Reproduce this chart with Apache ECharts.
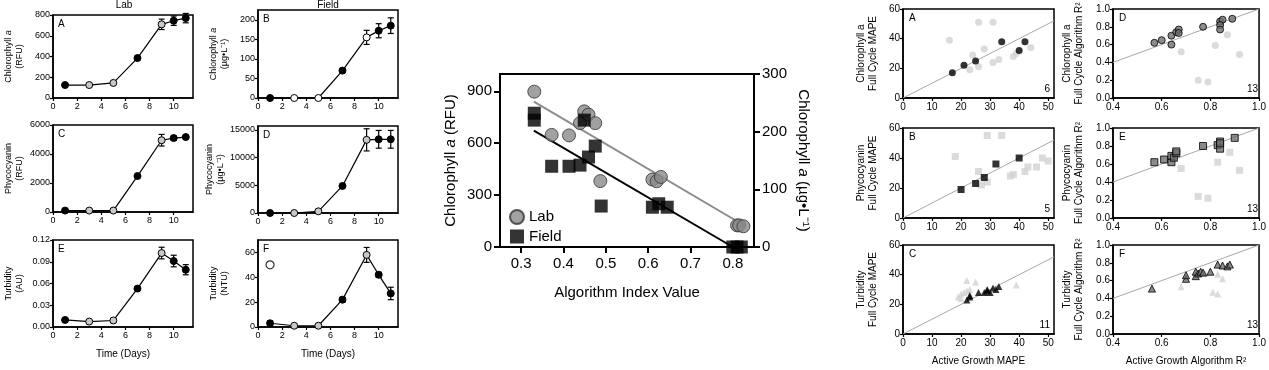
<!DOCTYPE html>
<html><head><meta charset="utf-8">
<script src="https://cdn.jsdelivr.net/npm/echarts@6/dist/echarts.min.js"></script>
<style>html,body{margin:0;padding:0;background:#fff}#c{width:1269px;height:370px}</style>
</head><body><div id="c"></div>
<script>
// ---------------- DATA ----------------
const days = [1, 3, 5, 7, 9, 10, 11];
const dayTicks = [0, 2, 4, 6, 8, 10];

const labChlRFU = [125, 125, 145, 385, 710, 745, 770];
const labChlRFUErr = [0, 0, 0, 0, 50, 45, 45];
const fieldChl = [0, 0, 0, 70, 155, 172, 185];
const fieldChlErr = [0, 0, 0, 0, 18, 18, 20];
const labPC = [100, 100, 100, 2480, 4950, 5100, 5170];
const labPCErr = [0, 0, 0, 0, 400, 150, 100];
const fieldPC = [0, 0, 300, 4880, 13200, 13300, 13300];
const fieldPCErr = [0, 0, 0, 0, 2000, 1600, 1600];
const labTurb = [0.0097, 0.0075, 0.009, 0.053, 0.102, 0.091, 0.079];
const labTurbErr = [0.002, 0, 0.003, 0, 0.008, 0.008, 0.007];
const fieldTurb = [3, 1, 1, 22, 58, 42, 27];
const fieldTurbErr = [2, 0, 0, 2, 6, 2, 5];
const fieldTurbOutlier = [[1, 50]];

// middle panel
const labIndex = [0.331, 0.372, 0.413, 0.439, 0.449, 0.459, 0.475, 0.487, 0.61, 0.62, 0.63, 0.81, 0.815, 0.825];
const labRFU = [898, 648, 645, 716, 784, 765, 716, 381, 390, 380, 405, 125, 125, 120];
const fieldIndex = [0.331, 0.331, 0.372, 0.413, 0.439, 0.449, 0.459, 0.475, 0.489, 0.61, 0.625, 0.645, 0.80, 0.81, 0.82];
const fieldUgL = [232, 220, 140, 140, 142, 220, 156, 175, 71, 69, 75, 69, 0, 0, 0];
const labFitX = [0.33, 0.83], labFitY = [840, 120];
const fieldFitX = [0.33, 0.80], fieldFitY = [202, 0];
const midXTicks = [0.3, 0.4, 0.5, 0.6, 0.7, 0.8];
const midYTicks = [0, 300, 600, 900];
const midY2Ticks = [0, 100, 200, 300];

// right panels
const chlMapeSel = [[17, 17], [21, 22], [25, 25], [34, 38], [40, 32], [42, 38]];
const chlMapeAll = [[16, 39], [26, 51], [31, 51], [24, 29], [23, 19], [26, 21], [28, 33], [31, 24], [33, 26], [38, 28], [39, 30], [44, 34]];
const pcMapeSel = [[20, 19], [25, 23], [28, 27], [32, 36], [40, 40]];
const pcMapeAll = [[18, 41], [29, 55], [34, 55], [26, 31], [27, 22], [29, 24], [37, 28], [38, 29], [42, 31], [43, 34], [46, 34], [48, 40], [50, 38]];
const turbMapeSel = [[22, 23], [23, 25], [23, 26], [26, 28], [28, 28], [29, 29], [29, 30], [30, 28], [31, 31], [32, 30], [33, 32]];
const turbMapeAll = [[19, 25], [20, 27], [20, 24], [22, 36], [22, 29], [23, 30], [25, 35], [39, 33], [21, 28]];
const chlR2Sel = [[0.57, 0.62], [0.60, 0.65], [0.64, 0.70], [0.64, 0.60], [0.66, 0.74], [0.67, 0.77], [0.67, 0.73], [0.77, 0.80], [0.84, 0.86], [0.85, 0.88], [0.84, 0.82], [0.84, 0.77], [0.89, 0.89]];
const chlR2All = [[0.68, 0.52], [0.75, 0.20], [0.79, 0.18], [0.82, 0.59], [0.87, 0.71], [0.92, 0.49]];
const pcR2Sel = [[0.57, 0.62], [0.61, 0.65], [0.64, 0.62], [0.64, 0.69], [0.65, 0.67], [0.66, 0.72], [0.66, 0.74], [0.77, 0.80], [0.83, 0.81], [0.84, 0.85], [0.84, 0.77], [0.84, 0.83], [0.90, 0.89]];
const pcR2All = [[0.68, 0.55], [0.75, 0.24], [0.79, 0.22], [0.83, 0.62], [0.88, 0.73], [0.92, 0.53]];
const turbR2Sel = [[0.56, 0.51], [0.70, 0.62], [0.70, 0.66], [0.74, 0.65], [0.74, 0.70], [0.75, 0.68], [0.76, 0.70], [0.77, 0.69], [0.80, 0.70], [0.83, 0.78], [0.85, 0.77], [0.87, 0.76], [0.88, 0.78]];
const turbR2All = [[0.68, 0.53], [0.81, 0.47], [0.83, 0.45], [0.83, 0.67], [0.85, 0.62], [0.78, 0.68]];
const mapeTicks = [0, 10, 20, 30, 40, 50];
const mapeYTicks = [0, 20, 40, 60];
const r2XTicks = [0.4, 0.6, 0.8, 1.0];
const r2YTicks = [0, 0.2, 0.4, 0.6, 0.8, 1.0];
const identityMape = [[0, 0], [52, 52]];
const identityR2 = [[0.4, 0.4], [1, 1]];

// ---------------- STYLE ----------------
const FONT = '"Liberation Sans", Arial, sans-serif';
const FILL = { k: '#000', g: '#c8c8c8', w: '#fff' };
const fillA = ['k', 'g', 'g', 'k', 'g', 'k', 'k'];
const fillB = ['k', 'w', 'w', 'k', 'w', 'k', 'k'];
const fillC = ['k', 'g', 'g', 'k', 'g', 'k', 'k'];
const fillD = ['k', 'g', 'g', 'k', 'g', 'k', 'k'];
const fillE = ['k', 'g', 'g', 'k', 'g', 'k', 'k'];
const fillF = ['k', 'g', 'g', 'k', 'g', 'k', 'k'];
const plain = v => String(v);

const grids = [], xAxes = [], yAxes = [], series = [], graphics = [];
function addGrid(g) {
  grids.push(Object.assign({ show: true, borderColor: '#000', borderWidth: 1.5, backgroundColor: 'transparent' }, g));
  return grids.length - 1;
}
function axisBase(fs) {
  return {
    type: 'value',
    axisLine: { show: true, onZero: false, lineStyle: { color: '#000', width: 1.5 } },
    splitLine: { show: false },
    axisLabel: { color: '#000', fontSize: fs, fontFamily: FONT, formatter: plain },
    nameTextStyle: { color: '#000', fontSize: fs, fontFamily: FONT }
  };
}
function errSeries(xi, yi, xs, ys, es, cap) {
  const data = [];
  xs.forEach((x, i) => { if (es[i] > 0) data.push([x, ys[i] - es[i], ys[i] + es[i]]); });
  return {
    type: 'custom', xAxisIndex: xi, yAxisIndex: yi, z: 2, silent: true,
    data: data,
    renderItem: function (params, api) {
      const lo = api.coord([api.value(0), api.value(1)]);
      const hi = api.coord([api.value(0), api.value(2)]);
      const st = { stroke: '#000', lineWidth: 1.2 };
      return {
        type: 'group', children: [
          { type: 'line', shape: { x1: lo[0], y1: lo[1], x2: hi[0], y2: hi[1] }, style: st },
          { type: 'line', shape: { x1: lo[0] - cap, y1: lo[1], x2: lo[0] + cap, y2: lo[1] }, style: st },
          { type: 'line', shape: { x1: hi[0] - cap, y1: hi[1], x2: hi[0] + cap, y2: hi[1] }, style: st }
        ]
      };
    }
  };
}
function text(x, y, t, fs, align) {
  graphics.push({ type: 'text', x: x, y: y, silent: true, z: 100,
    style: { text: t, fontSize: fs, fontFamily: FONT, fill: '#000', align: align || 'left', verticalAlign: 'top' } });
}

// ---------------- LEFT PANELS ----------------
const leftPanels = [
  { L: 'A', grid: { left: 53, top: 15, width: 140, height: 83 }, ymax: 800, yTicks: [0, 200, 400, 600, 800], y: labChlRFU, e: labChlRFUErr, f: fillA, name: '{t|Chlorophyll }{i|a}\n{t|(RFU)}' },
  { L: 'B', grid: { left: 258, top: 10, width: 140, height: 88 }, ymax: 225, yTicks: [0, 50, 100, 150, 200], y: fieldChl, e: fieldChlErr, f: fillB, name: '{t|Chlorophyll }{i|a}\n{t|(µg•L⁻¹)}' },
  { L: 'C', grid: { left: 53, top: 125, width: 140, height: 87 }, ymax: 6000, yTicks: [0, 2000, 4000, 6000], y: labPC, e: labPCErr, f: fillC, name: '{t|Phycocyanin}\n{t|(RFU)}' },
  { L: 'D', grid: { left: 258, top: 126, width: 140, height: 87 }, ymax: 15700, yTicks: [0, 5000, 10000, 15000], y: fieldPC, e: fieldPCErr, f: fillD, name: '{t|Phycocyanin}\n{t|(µg•L⁻¹)}' },
  { L: 'E', grid: { left: 53, top: 240, width: 140, height: 87 }, ymax: 0.12, yTicks: [0, 0.03, 0.06, 0.09, 0.12], y: labTurb, e: labTurbErr, f: fillE, name: '{t|Turbidity}\n{t|(AU)}', fmt: v => v.toFixed(2), xName: 'Time (Days)' },
  { L: 'F', grid: { left: 258, top: 240, width: 140, height: 87 }, ymax: 70, yTicks: [0, 20, 40, 60], y: fieldTurb, e: fieldTurbErr, f: fillF, name: '{t|Turbidity}\n{t|(NTU)}', xName: 'Time (Days)' }
];
leftPanels.forEach(p => {
  const gi = addGrid(p.grid);
  const xa = axisBase(9);
  Object.assign(xa, { gridIndex: gi, min: 0, max: 11.6,
    axisTick: { customValues: dayTicks, length: 3, lineStyle: { color: '#000', width: 1.2 } } });
  xa.axisLabel.customValues = dayTicks; xa.axisLabel.margin = 4;
  if (p.xName) { xa.name = p.xName; xa.nameLocation = 'middle'; xa.nameGap = 22; xa.nameTextStyle.fontSize = 10; }
  xAxes.push(xa);
  const ya = axisBase(9);
  Object.assign(ya, { gridIndex: gi, min: 0, max: p.ymax,
    axisTick: { customValues: p.yTicks, length: 3, lineStyle: { color: '#000', width: 1.2 } },
    name: p.name, nameLocation: 'middle', nameGap: 28 });
  ya.axisLabel.customValues = p.yTicks; ya.axisLabel.margin = 3;
  if (p.fmt) ya.axisLabel.formatter = p.fmt;
  ya.nameTextStyle.lineHeight = 11;
  ya.nameTextStyle.rich = { t: { fontSize: 9, fontFamily: FONT, color: '#000' }, i: { fontSize: 9, fontStyle: 'italic', fontFamily: FONT, color: '#000' } };
  yAxes.push(ya);
  const yi = yAxes.length - 1, xi = xAxes.length - 1;
  series.push(errSeries(xi, yi, days, p.y, p.e, 3));
  series.push({
    type: 'line', xAxisIndex: xi, yAxisIndex: yi, z: 3, symbol: 'circle', symbolSize: 7,
    lineStyle: { color: '#000', width: 1.2 },
    data: days.map((d, i) => ({ value: [d, p.y[i]], itemStyle: { color: FILL[p.f[i]], borderColor: '#000', borderWidth: 1 } }))
  });
  if (p.L === 'F') {
    series.push({ type: 'scatter', xAxisIndex: xi, yAxisIndex: yi, symbol: 'circle', symbolSize: 8,
      itemStyle: { color: '#fff', borderColor: '#000', borderWidth: 1.2 }, data: fieldTurbOutlier });
  }
  text(p.grid.left + 5, p.grid.top + 4, p.L, 10);
});
text(124, 0, 'Lab', 10, 'center');
text(328, 0, 'Field', 10, 'center');

// ---------------- MIDDLE PANEL ----------------
(function () {
  const gi = addGrid({ left: 500, top: 74, width: 254, height: 173, borderWidth: 2 });
  const xa = axisBase(15);
  Object.assign(xa, { gridIndex: gi, min: 0.25, max: 0.85, name: 'Algorithm Index Value', nameLocation: 'middle', nameGap: 38,
    axisTick: { customValues: midXTicks, length: 6, lineStyle: { color: '#000', width: 2 } } });
  xa.axisLine.lineStyle.width = 2;
  xa.axisLabel.customValues = midXTicks; xa.axisLabel.margin = 9; xa.axisLabel.formatter = v => v.toFixed(1);
  xa.nameTextStyle.fontSize = 15;
  xAxes.push(xa);
  const xi = xAxes.length - 1;
  const ya = axisBase(15);
  Object.assign(ya, { gridIndex: gi, min: 0, max: 1000, name: '{t|Chlorophyll }{i|a}{t| (RFU)}', nameLocation: 'middle', nameGap: 42,
    axisTick: { customValues: midYTicks, length: 6, lineStyle: { color: '#000', width: 2 } } });
  ya.axisLine.lineStyle.width = 2;
  ya.axisLabel.customValues = midYTicks; ya.axisLabel.margin = 8;
  ya.nameTextStyle.rich = { t: { fontSize: 15, fontFamily: FONT, color: '#000' }, i: { fontSize: 15, fontStyle: 'italic', fontFamily: FONT, color: '#000' } };
  yAxes.push(ya);
  const yi = yAxes.length - 1;
  const ya2 = axisBase(15);
  Object.assign(ya2, { gridIndex: gi, position: 'right', min: 0, max: 300, name: '{t|Chlorophyll }{i|a}{t| (µg•L⁻¹)}', nameLocation: 'middle', nameGap: 42, nameRotate: -90,
    axisTick: { customValues: midY2Ticks, length: 6, lineStyle: { color: '#000', width: 2 } } });
  ya2.axisLine.lineStyle.width = 2;
  ya2.axisLabel.customValues = midY2Ticks; ya2.axisLabel.margin = 8;
  ya2.nameTextStyle.rich = ya.nameTextStyle.rich;
  yAxes.push(ya2);
  const yi2 = yAxes.length - 1;
  series.push({ type: 'line', xAxisIndex: xi, yAxisIndex: yi, symbol: 'none', z: 2, silent: true,
    lineStyle: { color: '#8c8c8c', width: 2 }, data: labFitX.map((x, i) => [x, labFitY[i]]) });
  series.push({ type: 'line', xAxisIndex: xi, yAxisIndex: yi2, symbol: 'none', z: 2, silent: true,
    lineStyle: { color: '#000', width: 2 }, data: fieldFitX.map((x, i) => [x, fieldFitY[i]]) });
  series.push({ name: 'Lab', type: 'scatter', xAxisIndex: xi, yAxisIndex: yi, symbol: 'circle', symbolSize: 13, z: 3,
    itemStyle: { color: '#8a8a8a', borderColor: '#333', borderWidth: 1 }, data: labIndex.map((x, i) => [x, labRFU[i]]) });
  series.push({ name: 'Field', type: 'scatter', xAxisIndex: xi, yAxisIndex: yi2, symbol: 'rect', symbolSize: 13, z: 4,
    itemStyle: { color: '#000' }, data: fieldIndex.map((x, i) => [x, fieldUgL[i]]) });
})();

// ---------------- RIGHT PANELS ----------------
const rightPanels = [
  { L: 'A', n: '6', grid: { left: 903, top: 9, width: 151, height: 89 }, kind: 'mape', sel: chlMapeSel, all: chlMapeAll, sym: 'circle', selColor: '#000', name: '{t|Chlorophyll a}\n{t|Full Cycle MAPE}' },
  { L: 'B', n: '5', grid: { left: 903, top: 128, width: 151, height: 90 }, kind: 'mape', sel: pcMapeSel, all: pcMapeAll, sym: 'rect', selColor: '#000', name: '{t|Phycocyanin}\n{t|Full Cycle MAPE}' },
  { L: 'C', n: '11', grid: { left: 903, top: 245, width: 151, height: 89 }, kind: 'mape', sel: turbMapeSel, all: turbMapeAll, sym: 'triangle', selColor: '#000', name: '{t|Turbidity}\n{t|Full Cycle MAPE}', xName: 'Active Growth MAPE' },
  { L: 'D', n: '13', grid: { left: 1113, top: 9, width: 149, height: 89 }, kind: 'r2', sel: chlR2Sel, all: chlR2All, sym: 'circle', selColor: '#6e6e6e', name: '{t|Chlorophyll a}\n{t|Full Cycle Algorithm R²}' },
  { L: 'E', n: '13', grid: { left: 1113, top: 128, width: 149, height: 90 }, kind: 'r2', sel: pcR2Sel, all: pcR2All, sym: 'rect', selColor: '#6e6e6e', name: '{t|Phycocyanin}\n{t|Full Cycle Algorithm R²}' },
  { L: 'F', n: '13', grid: { left: 1113, top: 245, width: 149, height: 89 }, kind: 'r2', sel: turbR2Sel, all: turbR2All, sym: 'triangle', selColor: '#6e6e6e', name: '{t|Turbidity}\n{t|Full Cycle Algorithm R²}', xName: 'Active Growth Algorithm R²' }
];
rightPanels.forEach(p => {
  const gi = addGrid(p.grid);
  const m = p.kind === 'mape';
  const xa = axisBase(10);
  Object.assign(xa, { gridIndex: gi, min: m ? 0 : 0.4, max: m ? 52 : 1.0,
    axisTick: { customValues: m ? mapeTicks : r2XTicks, length: 3, lineStyle: { color: '#000', width: 1.2 } } });
  xa.axisLabel.customValues = m ? mapeTicks : r2XTicks; xa.axisLabel.margin = 4;
  if (!m) xa.axisLabel.formatter = v => v.toFixed(1);
  if (p.xName) { xa.name = p.xName; xa.nameLocation = 'middle'; xa.nameGap = 22; }
  xAxes.push(xa);
  const ya = axisBase(10);
  Object.assign(ya, { gridIndex: gi, min: 0, max: m ? 60 : 1.0, name: p.name, nameLocation: 'middle', nameGap: m ? 24 : 28,
    axisTick: { customValues: m ? mapeYTicks : r2YTicks, length: 3, lineStyle: { color: '#000', width: 1.2 } } });
  ya.axisLabel.customValues = m ? mapeYTicks : r2YTicks; ya.axisLabel.margin = 3;
  if (!m) ya.axisLabel.formatter = v => v.toFixed(1);
  ya.nameTextStyle.lineHeight = 12;
  ya.nameTextStyle.rich = { t: { fontSize: 10, fontFamily: FONT, color: '#000' } };
  yAxes.push(ya);
  const xi = xAxes.length - 1, yi = yAxes.length - 1;
  series.push({ type: 'line', xAxisIndex: xi, yAxisIndex: yi, symbol: 'none', silent: true, z: 1,
    lineStyle: { color: '#a8a8a8', width: 1 }, data: m ? identityMape : identityR2 });
  series.push({ type: 'scatter', xAxisIndex: xi, yAxisIndex: yi, symbol: p.sym, symbolSize: 7, z: 2,
    itemStyle: { color: '#d2d2d2' }, data: p.all });
  series.push({ type: 'scatter', xAxisIndex: xi, yAxisIndex: yi, symbol: p.sym, symbolSize: 7, z: 3,
    itemStyle: { color: p.selColor, borderColor: '#000', borderWidth: m ? 0 : 1 }, data: p.sel });
  text(p.grid.left + 6, p.grid.top + 4, p.L, 10);
  text(p.grid.left + p.grid.width - 4, p.grid.top + p.grid.height - 14, p.n, 10, 'right');
});

const chart = echarts.init(document.getElementById('c'), null, { renderer: 'canvas' });
chart.setOption({
  animation: false,
  backgroundColor: '#fff',
  textStyle: { fontFamily: FONT },
  grid: grids, xAxis: xAxes, yAxis: yAxes, series: series,
  legend: { data: ['Lab', 'Field'], orient: 'vertical', left: 504, top: 204, itemWidth: 14, itemHeight: 14, itemGap: 4,
    textStyle: { fontSize: 15, color: '#000', fontFamily: FONT }, selectedMode: false },
  graphic: graphics
});
</script></body></html>
